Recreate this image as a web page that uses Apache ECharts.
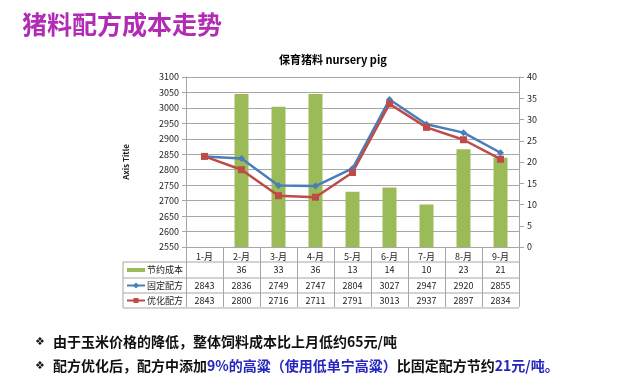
<!DOCTYPE html>
<html><head><meta charset="utf-8">
<script src="https://cdn.jsdelivr.net/npm/echarts@6/dist/echarts.min.js"></script>
<style>html,body{margin:0;padding:0;background:#fff}#c{width:640px;height:388px}</style>
</head><body><div id="c"></div>
<script>
const categories = ['1-月','2-月','3-月','4-月','5-月','6-月','7-月','8-月','9-月'];
const seriesNames = ['节约成本','固定配方','优化配方'];
const savings = [null,36,33,36,13,14,10,23,21];
const fixedCost = [2843,2836,2749,2747,2804,3027,2947,2920,2855];
const optCost = [2843,2800,2716,2711,2791,3013,2937,2897,2834];
const pageTitle = '猪料配方成本走势';
const chartTitle = '保育猪料 nursery pig';
const bullet1 = '由于玉米价格的降低，整体饲料成本比上月低约65元/吨';
const bullet2 = [['配方优化后，配方中添加','b'],['9%的高粱（使用低单宁高粱）','h'],['比固定配方节约','b'],['21元/吨。','h']];

const FONT = '"Noto Sans CJK SC", "Noto Sans", sans-serif';
const colors = ['#9bbb59','#4a7ebb','#be4b48'];
const gridC = '#a6a6a6';
const chart = echarts.init(document.getElementById('c'));
const G = {left:186, top:77, width:333, height:170};
chart.setOption({
  animation:false,
  textStyle:{fontFamily:FONT},
  title:{text:chartTitle, left:274, top:49, textStyle:{fontSize:11, fontWeight:'bold', color:'#000', fontFamily:FONT}},
  grid:G,
  xAxis:{type:'category', data:categories, boundaryGap:true,
    axisLine:{lineStyle:{color:gridC}},
    axisTick:{show:true, interval:0, length:60, lineStyle:{color:gridC}},
    axisLabel:{interval:0, margin:5, fontSize:9, color:'#222'}},
  yAxis:[
    {type:'value', min:2550, max:3100, interval:50,
     name:'Axis Title', nameLocation:'middle', nameGap:56, nameRotate:90,
     nameTextStyle:{fontSize:8, fontWeight:'bold', color:'#222'},
     axisLine:{show:true, lineStyle:{color:gridC}},
     axisTick:{show:true, length:4, lineStyle:{color:gridC}},
     axisLabel:{fontSize:9, color:'#222', margin:7, formatter:v => String(v)},
     splitLine:{lineStyle:{color:gridC}}},
    {type:'value', min:0, max:40, interval:5, position:'right',
     axisLine:{show:true, lineStyle:{color:gridC}},
     axisTick:{show:true, length:5, lineStyle:{color:gridC}},
     axisLabel:{fontSize:9, color:'#222', margin:8},
     splitLine:{show:false}}
  ],
  series:[
    {name:seriesNames[0], type:'bar', yAxisIndex:1, data:savings, barWidth:14, itemStyle:{color:colors[0]}},
    {name:seriesNames[1], type:'line', data:fixedCost, symbol:'diamond', symbolSize:7,
     lineStyle:{color:colors[1], width:2.5}, itemStyle:{color:colors[1]}},
    {name:seriesNames[2], type:'line', data:optCost, symbol:'rect', symbolSize:7,
     lineStyle:{color:colors[2], width:2.5}, itemStyle:{color:colors[2]}}
  ]
});

// Data table under the plot
const rows = [savings, fixedCost, optCost];
const rowTop = G.top + G.height + 15;
const rowH = [16, 15, 15];
const tableLeft = 123, tableRight = G.left + G.width;
const els = [];
let y = rowTop;
const ys = [y];
rowH.forEach(h => { y += h; ys.push(y); });
ys.forEach(yy => els.push({type:'line', shape:{x1:tableLeft, y1:yy, x2:tableRight, y2:yy}, style:{stroke:gridC, lineWidth:1}}));
els.push({type:'line', shape:{x1:tableLeft, y1:ys[0], x2:tableLeft, y2:ys[3]}, style:{stroke:gridC, lineWidth:1}});
rows.forEach((arr, r) => {
  const cy = (ys[r] + ys[r+1]) / 2;
  arr.forEach((v, i) => {
    if (v == null) return;
    const cx = chart.convertToPixel({xAxisIndex:0}, categories[i]);
    els.push({type:'text', x:cx, y:cy, style:{text:String(v), fontSize:9, fill:'#222', align:'center', verticalAlign:'middle', fontFamily:FONT}});
  });
  // legend key
  if (r === 0) {
    els.push({type:'line', shape:{x1:127, y1:cy, x2:145, y2:cy}, style:{stroke:colors[0], lineWidth:4}});
  } else {
    els.push({type:'line', shape:{x1:127, y1:cy, x2:145, y2:cy}, style:{stroke:colors[r], lineWidth:2}});
    if (r === 1) els.push({type:'polygon', shape:{points:[[136,cy-3],[139,cy],[136,cy+3],[133,cy]]}, style:{fill:colors[r]}});
    else els.push({type:'rect', shape:{x:133.5, y:cy-2.5, width:5, height:5}, style:{fill:colors[r]}});
  }
  els.push({type:'text', x:147, y:cy, style:{text:seriesNames[r], fontSize:9, fill:'#222', verticalAlign:'middle', fontFamily:FONT}});
});

// Page title
els.push({type:'text', x:22, y:24, style:{text:pageTitle, fontSize:25, fontWeight:'bold', fill:'#b22bb5', verticalAlign:'middle', fontFamily:FONT}});
// Bullets
const bulletY = [342, 366];
bulletY.forEach(by => els.push({type:'text', x:35, y:by, style:{text:'❖', fontSize:11, fill:'#111', verticalAlign:'middle', fontFamily:'"DejaVu Sans"'}}));
els.push({type:'text', x:53, y:bulletY[0], style:{text:bullet1, fontSize:14, fontWeight:'bold', fill:'#111', verticalAlign:'middle', fontFamily:FONT}});
els.push({type:'text', x:53, y:bulletY[1], style:{
  text: bullet2.map(p => '{' + p[1] + '|' + p[0] + '}').join(''),
  verticalAlign:'middle', fontFamily:FONT,
  rich:{b:{fontSize:14, fontWeight:'bold', fill:'#111', fontFamily:FONT}, h:{fontSize:14, fontWeight:'bold', fill:'#2525c0', fontFamily:FONT}}
}});
chart.setOption({graphic:{elements:els}});
</script></body></html>
